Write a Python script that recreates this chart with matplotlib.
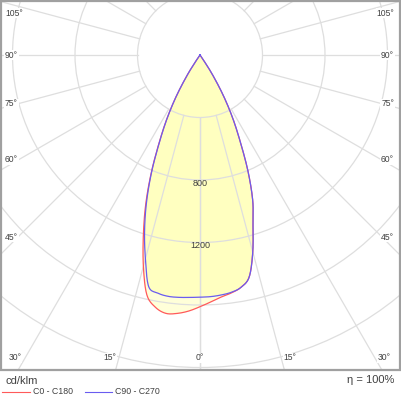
import numpy as np
import matplotlib
matplotlib.use("Agg")
from matplotlib import pyplot as plt
from matplotlib.patches import Rectangle, Circle

plt.rcParams['font.family'] = ['Liberation Sans', 'DejaVu Sans']

# luminous intensity (cd/klm) per half plane, gamma from nadir
gamma = [0, 2.5, 5, 7.5, 10, 12.5, 15, 17.5, 20, 22.5, 25, 27.5, 30, 32.5, 35, 37.5, 40]
c0   = [1611, 1582, 1555, 1536, 1510, 1455, 1305, 1128, 985, 800, 605, 448, 295, 145, 25, 0, 0]
c180 = [1611, 1640, 1660, 1668, 1640, 1572, 1400, 1205, 1015, 815, 618, 456, 300, 147, 26, 0, 0]
c90  = [1550, 1548, 1542, 1532, 1510, 1455, 1305, 1128, 985, 800, 605, 448, 295, 145, 25, 0, 0]
c270 = [1550, 1553, 1557, 1558, 1548, 1518, 1350, 1180, 1000, 808, 612, 452, 297, 145, 25, 0, 0]

rings = [400, 800, 1200, 1600, 2000, 2400]
ring_labels = [800, 1200]
side_angles = ['105°', '90°', '75°', '60°', '45°']
side_y = [13, 55, 104, 160, 237]
bottom_angles = ['30°', '15°', '0°', '15°', '30°']
bottom_x = [15, 110, 200, 290, 384]

W, H = 401, 396
CX, CY = 200, 55          # pole position in pixels
K = 6.4                   # cd per pixel

def px(x, y):
    return (x - CX) * K, (CY - y) * K

def fig_xy(x, y):
    return x / W, 1 - y / H

def smooth(xs, ys, n=12):
    # catmull-rom through the measured points, only for drawing
    p = np.column_stack([xs, ys])
    p = np.vstack([p[0], p, p[-1]])
    t = np.linspace(0, 1, n, endpoint=False)[:, None]
    out = []
    for i in range(1, len(p) - 2):
        a, b, c, d = p[i - 1], p[i], p[i + 1], p[i + 2]
        out.append(0.5 * (2 * b + (-a + c) * t + (2 * a - 5 * b + 4 * c - d) * t ** 2
                          + (-a + 3 * b - 3 * c + d) * t ** 3))
    out.append(p[-2][None, :])
    out = np.vstack(out)
    return out[:, 0], out[:, 1]

fig = plt.figure(figsize=(W / 100, H / 100), dpi=100)
ax = fig.add_axes([0, 0, 1, 1])
ax.set_xlim(-CX * K, (W - CX) * K)
ax.set_ylim((CY - H) * K, CY * K)
ax.set_axis_off()

x0, y0 = px(0.8, 0.8)
x1, y1 = px(399.5, 370)
frame = Rectangle((x0, y1), x1 - x0, y0 - y1, fill=False, ec='#a0a0a0', lw=1.6, zorder=5)
ax.add_patch(frame)
clip = Rectangle((x0, y1), x1 - x0, y0 - y1, transform=ax.transData, visible=False)
ax.add_patch(clip)

# grid
grid_col = '#dedede'
for r in rings:
    c = Circle((0, 0), r, fill=False, ec=grid_col, lw=0.9, zorder=2)
    ax.add_patch(c)
    c.set_clip_path(clip)
for g in range(0, 181, 15):
    for s in (-1, 1):
        t = np.radians(g)
        ln, = ax.plot([s * 400 * np.sin(t), s * 5000 * np.sin(t)],
                      [-400 * np.cos(t), -5000 * np.cos(t)],
                      color=grid_col, lw=0.9, zorder=2)
        ln.set_clip_path(clip)

def curve(left, right):
    g = np.radians(gamma)
    xs = np.concatenate([-np.array(left)[::-1] * np.sin(g[::-1]), np.array(right)[1:] * np.sin(g[1:])])
    ys = np.concatenate([-np.array(left)[::-1] * np.cos(g[::-1]), -np.array(right)[1:] * np.cos(g[1:])])
    return smooth(xs, ys)

xr, yr = curve(c180, c0)
xb, yb = curve(c270, c90)
ax.fill(xr, yr, color='#ffff90', alpha=0.34, lw=0, zorder=1)
ax.fill(xb, yb, color='#ffff90', alpha=0.34, lw=0, zorder=1)
ax.plot(xr, yr, color='#ff5a5a', lw=0.9, zorder=3)
ax.plot(xb, yb, color='#6a5cf0', lw=0.9, zorder=3)

txt = '#404040'
for v in ring_labels:
    ax.text(0, -v - 20, str(v), ha='center', va='center', fontsize=6.5, color=txt, zorder=4)

box = dict(facecolor='white', edgecolor='none', pad=0.5)
for lab, y in zip(side_angles, side_y):
    fig.text(*fig_xy(5, y), lab, ha='left', va='center', fontsize=6.2, color=txt, bbox=box, zorder=6)
    fig.text(*fig_xy(394, y), lab, ha='right', va='center', fontsize=6.2, color=txt, bbox=box, zorder=6)
for lab, x in zip(bottom_angles, bottom_x):
    fig.text(*fig_xy(x, 358), lab, ha='center', va='center', fontsize=6.2, color=txt, bbox=box, zorder=6)

fig.text(*fig_xy(5, 381), 'cd/klm', ha='left', va='center', fontsize=8, color=txt)
fig.text(*fig_xy(394, 380), 'η = 100%', ha='right', va='center', fontsize=8, color=txt)

# legend
ax.plot([px(2, 0)[0], px(30, 0)[0]], [px(0, 392)[1]] * 2, color='#ff5a5a', lw=0.8, clip_on=False)
fig.text(*fig_xy(33, 392), 'C0 - C180', ha='left', va='center', fontsize=6.3, color=txt)
ax.plot([px(85, 0)[0], px(112, 0)[0]], [px(0, 392)[1]] * 2, color='#6a5cf0', lw=0.8, clip_on=False)
fig.text(*fig_xy(115, 392), 'C90 - C270', ha='left', va='center', fontsize=6.3, color=txt)

fig.savefig('out.png', dpi=100)
